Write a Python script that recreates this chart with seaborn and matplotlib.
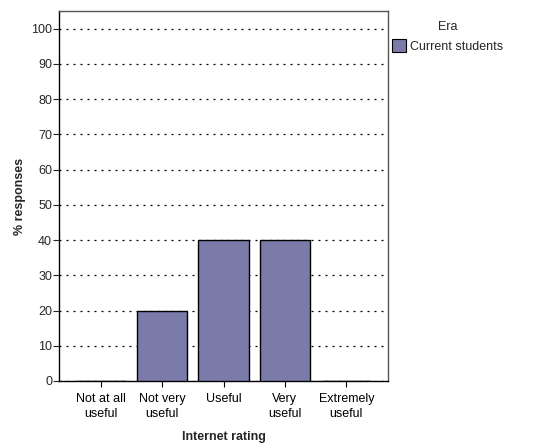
import matplotlib
matplotlib.use("Agg")
import matplotlib.pyplot as plt
import seaborn as sns
import pandas as pd
from matplotlib.patches import Patch

categories = ["Not at all\nuseful", "Not very\nuseful", "Useful", "Very\nuseful", "Extremely\nuseful"]
values = [0, 20, 40, 40, 0]
era = ["Current students"] * 5
yticks = [0, 10, 20, 30, 40, 50, 60, 70, 80, 90, 100]

df = pd.DataFrame({"rating": categories, "pct": values, "Era": era})

sns.set_style("white")
plt.rcParams['font.family'] = ['Liberation Sans', 'DejaVu Sans']

fig = plt.figure(figsize=(5.34, 4.43), dpi=100)
ax = fig.add_axes([0.1105, 0.14, 0.6161, 0.835])

color = "#7b7baa"
sns.barplot(data=df, x="rating", y="pct", hue="Era", palette=[color], ax=ax,
            width=0.82, saturation=1, edgecolor="black", linewidth=1.0,
            legend=False, zorder=3)

ax.set_ylim(0, 105)
ax.set_xlim(-0.68, 4.68)
ax.set_yticks(yticks)
ax.set_yticklabels([str(t) for t in yticks], fontsize=9)
ax.tick_params(axis="x", labelsize=9, length=4, width=0.8, colors="black", bottom=True, pad=5)
for lbl in ax.get_xticklabels():
    lbl.set_linespacing(1.25)
ax.tick_params(axis="y", length=4, width=0.8, left=True, pad=1)
ax.yaxis.grid(True, linestyle=(0, (1.6, 4)), color="black", linewidth=0.9, zorder=0)
ax.set_axisbelow(True)
for s in ["left", "bottom"]:
    ax.spines[s].set_color("black")
    ax.spines[s].set_linewidth(1.0)
for s in ["top", "right"]:
    ax.spines[s].set_color("#555555")
    ax.spines[s].set_linewidth(1.0)

ax.set_xlabel("Internet rating", fontsize=9, fontweight="bold", labelpad=8)
ax.set_ylabel("% responses", fontsize=9, fontweight="bold", labelpad=4)

handles = [Patch(facecolor=color, edgecolor="black", linewidth=0.8)]
leg = fig.legend(handles, ["Current students"], title="Era", loc="upper left",
                 bbox_to_anchor=(0.725, 0.963), frameon=False, fontsize=9,
                 title_fontsize=9, handlelength=1.1, handleheight=1.2,
                 handletextpad=0.3, borderaxespad=0, labelspacing=0.6)
leg._legend_box.sep = 4
fig.savefig("out.png", dpi=100)
